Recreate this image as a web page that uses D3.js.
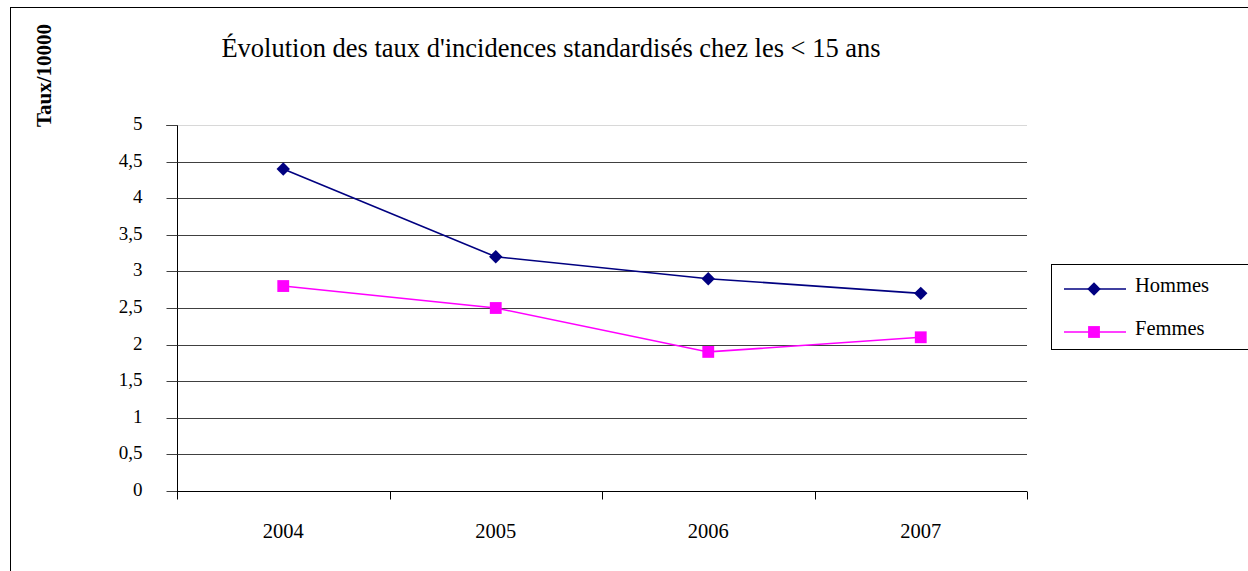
<!DOCTYPE html>
<html>
<head>
<meta charset="utf-8">
<script src="https://cdn.jsdelivr.net/npm/d3@7"></script>
<style>
  body { margin: 0; background: #fff; }
  svg text { font-family: "Liberation Serif", "Times New Roman", Times, serif; }
</style>
</head>
<body>
<svg id="chart" width="1248" height="571"></svg>
<script>
// Data
const years = ["2004", "2005", "2006", "2007"];
const hommes = [4.4, 3.2, 2.9, 2.7];
const femmes = [2.8, 2.5, 1.9, 2.1];
const yTicks = [0, 0.5, 1, 1.5, 2, 2.5, 3, 3.5, 4, 4.5, 5];
const seriesNames = ["Hommes", "Femmes"];
const seriesColors = ["#000080", "#FF00FF"];

const svg = d3.select("#chart");

// outer frame (right and bottom sides fall outside the picture)
svg.append("rect")
    .attr("x", 10.5).attr("y", 7.5)
    .attr("width", 1400).attr("height", 700)
    .attr("fill", "none").attr("stroke", "#000");

const plot = { left: 177, right: 1027, top: 125, bottom: 491 };

const x = d3.scaleBand().domain(years).range([plot.left, plot.right]);
const y = d3.scaleLinear().domain([0, 5]).range([plot.bottom, plot.top]);

// gridlines
svg.append("g")
    .selectAll("line")
    .data(yTicks.filter(d => d > 0))
    .enter()
    .append("line")
    .attr("x1", plot.left).attr("x2", plot.right)
    .attr("y1", d => Math.round(y(d)) + 0.5)
    .attr("y2", d => Math.round(y(d)) + 0.5)
    .attr("stroke", d => d === 5 ? "#d8d8d8" : "#404040")
    .attr("stroke-width", 1);

// y axis
const yAxis = svg.append("g")
    .attr("transform", `translate(${plot.left + 0.5},0.5)`)
    .call(d3.axisLeft(y).tickValues(yTicks).tickSize(11).tickPadding(24)
        .tickFormat(d => String(d).replace(".", ",")));
yAxis.attr("font-family", null);
yAxis.select(".domain").attr("d", `M-11,${Math.round(plot.top)}H0V${plot.bottom}`).attr("stroke", "#000");
yAxis.selectAll(".tick line").attr("stroke", "#404040");
yAxis.selectAll(".tick text").attr("font-size", 19).attr("fill", "#000").attr("dy", "0.25em");
yAxis.selectAll(".tick").attr("transform", d => `translate(0,${Math.round(y(d))})`);

// x axis with ticks at category boundaries
const xAxisG = svg.append("g").attr("transform", `translate(0,${plot.bottom + 0.5})`);
xAxisG.append("line")
    .attr("x1", plot.left).attr("x2", plot.right)
    .attr("stroke", "#000");
const bounds = years.map(d => x(d)).concat([plot.right]);
xAxisG.selectAll("line.tk")
    .data(bounds)
    .enter()
    .append("line")
    .attr("class", "tk")
    .attr("x1", d => Math.round(d) + 0.5).attr("x2", d => Math.round(d) + 0.5)
    .attr("y1", 0).attr("y2", 8)
    .attr("stroke", "#000");
xAxisG.selectAll("text")
    .data(years)
    .enter()
    .append("text")
    .attr("x", d => x(d) + x.bandwidth() / 2)
    .attr("y", 46)
    .attr("text-anchor", "middle")
    .attr("font-size", 20.5)
    .text(d => d);

// series
const line = d3.line()
    .x((d, i) => x(years[i]) + x.bandwidth() / 2)
    .y(d => y(d));

const allSeries = [hommes, femmes];
const markerSize = [90, 140];
const markerRot = [45, 0];

allSeries.forEach((vals, s) => {
    svg.append("path")
        .datum(vals)
        .attr("d", line)
        .attr("fill", "none")
        .attr("stroke", seriesColors[s])
        .attr("stroke-width", 1.6);
    svg.selectAll(".m" + s)
        .data(vals)
        .enter()
        .append("path")
        .attr("class", "m" + s)
        .attr("d", d3.symbol().type(d3.symbolSquare).size(markerSize[s]))
        .attr("transform", (d, i) => `translate(${x(years[i]) + x.bandwidth() / 2},${y(d)}) rotate(${markerRot[s]})`)
        .attr("fill", seriesColors[s]);
});

// title
svg.append("text")
    .attr("x", 551).attr("y", 57)
    .attr("text-anchor", "middle")
    .attr("font-size", 26.5)
    .text("Évolution des taux d'incidences standardisés chez les < 15 ans");

// y label
svg.append("text")
    .attr("transform", "translate(51,75.5) rotate(-90)")
    .attr("text-anchor", "middle")
    .attr("font-size", 21)
    .attr("font-weight", "bold")
    .text("Taux/10000");

// legend
const legend = svg.append("g");
legend.append("rect")
    .attr("x", 1051.5).attr("y", 264.5)
    .attr("width", 300).attr("height", 85)
    .attr("fill", "#fff").attr("stroke", "#000");
seriesNames.forEach((name, i) => {
    const ly = 289 + i * 43;
    legend.append("line")
        .attr("x1", 1064).attr("x2", 1126)
        .attr("y1", ly).attr("y2", ly)
        .attr("stroke", seriesColors[i]).attr("stroke-width", 1.6);
    legend.append("path")
        .attr("d", d3.symbol().type(d3.symbolSquare).size(markerSize[i]))
        .attr("transform", `translate(1094,${ly}) rotate(${markerRot[i]})`)
        .attr("fill", seriesColors[i]);
    legend.append("text")
        .attr("x", 1135).attr("y", ly + 3)
        .attr("font-size", 20.5)
        .text(name);
});
</script>
</body>
</html>
